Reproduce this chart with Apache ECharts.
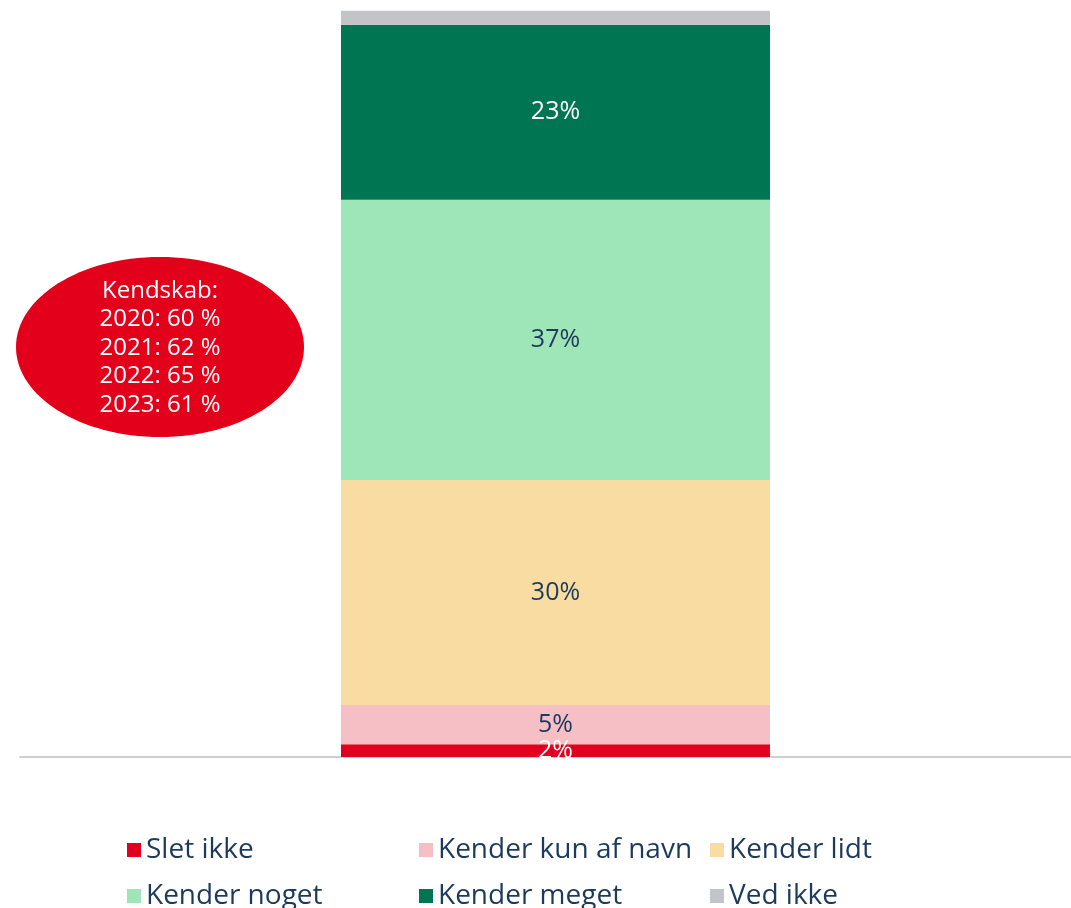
<!DOCTYPE html>
<html>
<head>
<meta charset="utf-8">
<script src="https://cdn.jsdelivr.net/npm/echarts@6/dist/echarts.min.js"></script>
<style>
  html, body { margin: 0; padding: 0; background: #fff; }
  #chart { width: 1071px; height: 908px; }
</style>
</head>
<body>
<div id="chart"></div>
<script>
// data (share of respondents, %)
const categories = ['2023'];
const seriesNames = ['Slet ikke', 'Kender kun af navn', 'Kender lidt', 'Kender noget', 'Kender meget', 'Ved ikke'];
const sletIkke = [1.7];
const kunAfNavn = [5.2];
const kenderLidt = [29.8];
const kenderNoget = [37.1];
const kenderMeget = [23.2];
const vedIkke = [1.85];
const kendskabLines = ['Kendskab:', '2020: 60 %', '2021: 62 %', '2022: 65 %', '2023: 61 %'];

const colors = ['#e1001f', '#f5bfc5', '#f9dca2', '#9ee5b8', '#007552', '#c3c4c8'];
const labelColors = ['#ffffff', '#1c3a5e', '#1c3a5e', '#1c3a5e', '#ffffff', '#1c3a5e'];
const navy = '#1c3a5e';
const font = 'Open Sans';

const allData = [sletIkke, kunAfNavn, kenderLidt, kenderNoget, kenderMeget, vedIkke];

const chart = echarts.init(document.getElementById('chart'), null, { renderer: 'canvas' });

const series = seriesNames.map((name, i) => ({
  name: name,
  type: 'bar',
  stack: 'total',
  barWidth: 429,
  data: allData[i],
  itemStyle: { color: colors[i] },
  label: {
    show: i !== 5, // "Ved ikke" too thin for a label
    position: 'inside',
    color: labelColors[i],
    fontFamily: font,
    fontSize: 25,
    formatter: p => Math.round(p.value) + '%'
  },
  labelLayout: { hideOverlap: false }
}));

// legend: 3 columns x 2 rows, one legend per item
const legendCols = [127, 419, 710];
const legendRows = [836, 882];
const legends = seriesNames.map((name, i) => ({
  icon: 'rect',
  itemWidth: 14,
  itemHeight: 14,
  padding: 0,
  left: legendCols[i % 3],
  top: legendRows[Math.floor(i / 3)],
  selectedMode: false,
  data: [name],
  textStyle: { color: navy, fontFamily: font, fontSize: 28 }
}));

chart.setOption({
  animation: false,
  color: colors,
  grid: [
    { left: 40, right: 0, top: 2, bottom: 151 },
    { left: 20, right: 0, top: 2, bottom: 151 } // baseline only
  ],
  xAxis: [
    {
      type: 'category',
      data: categories,
      axisLine: { show: false },
      axisTick: { show: false },
      axisLabel: { show: false }
    },
    {
      type: 'category',
      gridIndex: 1,
      data: categories,
      axisLine: { show: true, lineStyle: { color: '#d0d0d0', width: 2 } },
      axisTick: { show: false },
      axisLabel: { show: false }
    }
  ],
  yAxis: [
    { type: 'value', min: 0, max: 100, show: false, splitLine: { show: false } },
    { type: 'value', gridIndex: 1, min: 0, max: 100, show: false, splitLine: { show: false } }
  ],
  legend: legends,
  graphic: [
    {
      type: 'ellipse',
      shape: { cx: 160, cy: 347, rx: 144, ry: 90 },
      style: { fill: '#e2001a' },
      z: 10
    },
    {
      type: 'text',
      x: 160,
      y: 348,
      z: 11,
      style: {
        text: kendskabLines.join('\n'),
        fill: '#ffffff',
        font: '24px "Open Sans"',
        lineHeight: 28.5,
        align: 'center',
        verticalAlign: 'middle'
      }
    }
  ],
  series: series
});
</script>
</body>
</html>
